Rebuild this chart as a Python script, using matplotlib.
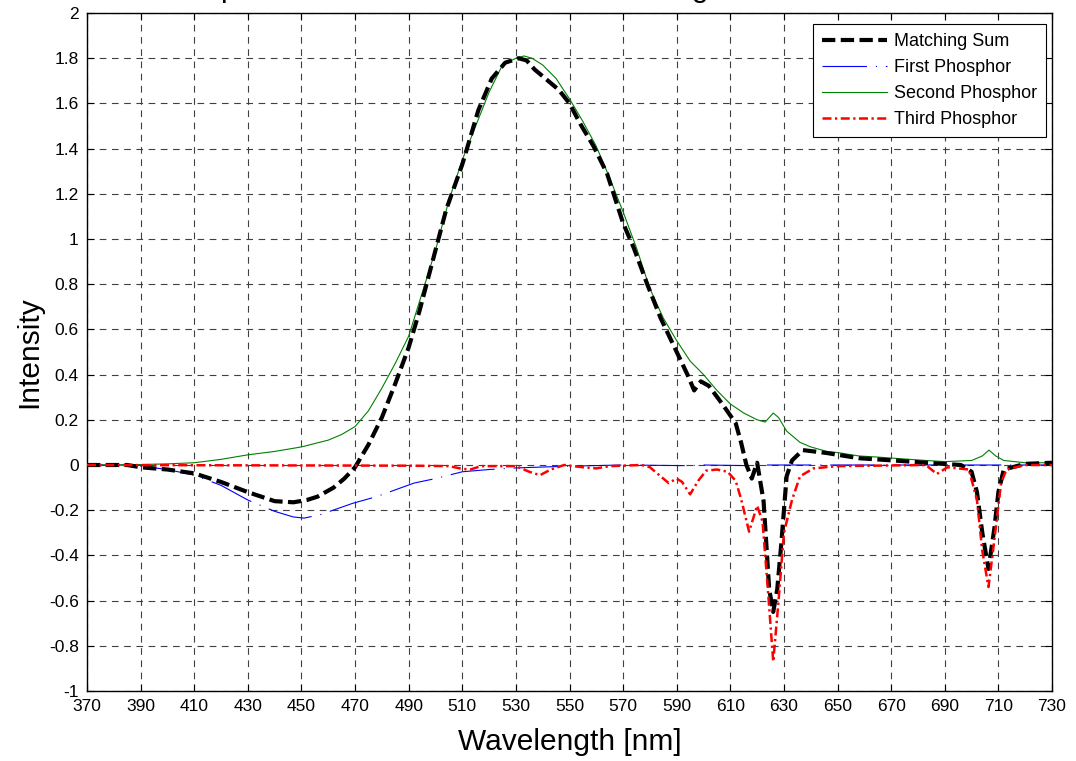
import numpy as np
import matplotlib
matplotlib.use("Agg")
import matplotlib.pyplot as plt
from matplotlib.ticker import FuncFormatter

plt.rcParams['font.family'] = ['Liberation Sans', 'DejaVu Sans']

# Matching Sum (black, thick dashed)
wl_sum = [370, 380, 385, 390, 400, 410, 420, 430, 440, 447, 452, 456, 462, 466, 470,
          475, 480, 485, 490, 494, 498, 504, 510, 516, 521, 526, 531, 534, 537, 541,
          546, 550, 554, 559, 564, 570, 574, 579, 584, 590, 594, 596.5, 599, 602, 607,
          612, 614, 616, 618, 620, 622.4, 624.5, 626, 627.5, 629, 631, 633, 637, 646,
          658, 671, 683, 696, 700, 702, 704, 706.3, 708.5, 710, 712, 720, 730]
sum_vals = [0.0, 0.0, 0.0, -0.01, -0.02, -0.037, -0.075, -0.12, -0.16, -0.165, -0.155,
            -0.14, -0.10, -0.06, -0.01, 0.09, 0.21, 0.36, 0.52, 0.68, 0.86, 1.13, 1.33,
            1.57, 1.71, 1.78, 1.80, 1.79, 1.75, 1.71, 1.66, 1.60, 1.51, 1.41, 1.29, 1.07,
            0.96, 0.80, 0.65, 0.50, 0.40, 0.33, 0.37, 0.35, 0.27, 0.185, 0.10, 0.0, -0.06,
            0.01, -0.16, -0.55, -0.65, -0.55, -0.35, -0.05, 0.02, 0.066, 0.053, 0.03, 0.02,
            0.01, 0.0, -0.03, -0.12, -0.3, -0.46, -0.28, -0.12, -0.02, 0.005, 0.01]

# First Phosphor (blue)
wl_first = [370, 385, 390, 400, 410, 420, 430, 440, 447, 451, 457, 463, 469, 478, 485,
            492, 500, 510, 520, 530, 550, 570, 595, 600, 618, 620, 650, 700, 730]
first_vals = [0.0, 0.0, -0.005, -0.02, -0.045, -0.09, -0.155, -0.205, -0.23, -0.235,
              -0.22, -0.195, -0.17, -0.14, -0.11, -0.08, -0.06, -0.03, -0.02, -0.013,
              -0.005, 0.0, -0.003, 0.0, -0.003, 0.0, 0.0, 0.0, 0.0]

# Second Phosphor (green)
wl_second = [370, 380, 390, 400, 410, 420, 430, 440, 450, 460, 465, 470, 475, 480, 485,
             490, 495, 500, 505, 510, 515, 520, 525, 530, 533, 536, 540, 545, 550, 555,
             560, 565, 570, 575, 580, 585, 590, 595, 600, 605, 610, 615, 620, 623, 626,
             628, 631, 636, 640, 646, 650, 658, 665, 671, 683, 690, 700, 704, 706.5, 709,
             712, 720, 730]
second_vals = [0.0, 0.0, 0.002, 0.005, 0.01, 0.025, 0.045, 0.06, 0.08, 0.11, 0.135, 0.17,
               0.24, 0.34, 0.45, 0.57, 0.76, 0.95, 1.17, 1.35, 1.50, 1.65, 1.77, 1.80,
               1.81, 1.80, 1.77, 1.71, 1.62, 1.52, 1.41, 1.27, 1.12, 0.96, 0.78, 0.65,
               0.55, 0.46, 0.40, 0.33, 0.27, 0.23, 0.20, 0.19, 0.23, 0.21, 0.15, 0.10,
               0.08, 0.06, 0.055, 0.04, 0.035, 0.03, 0.02, 0.015, 0.02, 0.04, 0.066, 0.04,
               0.02, 0.01, 0.01]

# Third Phosphor (red, dash-dot)
wl_third = [370, 490, 505, 510, 513, 517, 530, 535, 539, 543, 548, 555, 560, 565, 577,
            580, 584, 587, 590, 592, 595, 598, 601, 605, 609, 612, 614, 617, 620, 622,
            624, 626, 628, 630, 633, 636, 641, 650, 683, 687, 691, 699, 702, 704, 706.3,
            708, 709.5, 711, 713, 720, 730]
third_vals = [0.0, -0.003, -0.005, -0.017, -0.02, -0.005, -0.005, -0.03, -0.045, -0.02,
              0.0, -0.01, -0.015, -0.005, 0.0, -0.01, -0.05, -0.08, -0.06, -0.075, -0.13,
              -0.07, -0.025, -0.02, -0.03, -0.07, -0.15, -0.295, -0.18, -0.25, -0.55,
              -0.87, -0.6, -0.3, -0.155, -0.05, -0.015, -0.005, 0.0, -0.04, -0.01, -0.02,
              -0.155, -0.38, -0.54, -0.38, -0.23, -0.08, -0.02, 0.0, 0.0]

xticks = np.arange(370, 731, 20)
yticks = np.round(np.arange(-1, 2.01, 0.2), 1)


def fmt(v, pos):
    v = round(v, 1)
    if abs(v) < 1e-9:
        return '0'
    return '%g' % v


fig = plt.figure(figsize=(10.76, 7.61), dpi=100)
ax = fig.add_axes([87 / 1076, 70 / 761, 965 / 1076, 678 / 761])

ax.plot(wl_sum, sum_vals, color='black', lw=3.0, linestyle=(0, (3.2, 1.3)),
        label='Matching Sum', zorder=4)
ax.plot(wl_first, first_vals, color='#0000FF', lw=0.8, linestyle=(0, (40, 8, 1, 8)),
        label='First Phosphor', zorder=3)
ax.plot(wl_second, second_vals, color='#008000', lw=0.8, label='Second Phosphor', zorder=3)
ax.plot(wl_third, third_vals, color='#FF0000', lw=1.8, linestyle=(0, (3.6, 1.4, 0.9, 1.4)),
        label='Third Phosphor', zorder=5)

ax.set_xlim(370, 730)
ax.set_ylim(-1, 2)
ax.set_xticks(xticks)
ax.set_yticks(yticks)
ax.yaxis.set_major_formatter(FuncFormatter(fmt))
ax.tick_params(direction='in', top=True, right=True, length=5, width=0.8,
               labelsize=12.5, pad=6)
ax.grid(True, color='0.25', lw=0.8, linestyle=(0, (6, 5)))
for s in ax.spines.values():
    s.set_linewidth(1.0)

ax.set_xlabel('Wavelength [nm]', fontsize=21.5, labelpad=10)
ax.set_ylabel('Intensity', fontsize=21.5, labelpad=4)

leg = ax.legend(loc='upper right', bbox_to_anchor=(0.9938, 0.9838), borderaxespad=0,
                fontsize=13, handlelength=3.6, handletextpad=0.4, labelspacing=0.5,
                fancybox=False, framealpha=1, edgecolor='black', borderpad=0.5)
leg.get_frame().set_linewidth(0.8)

# title sits mostly above the figure edge, only descenders show
fig.text(0.455, 1.004, 'Spectral Contributions to the Matching Sum',
         ha='center', va='baseline', fontsize=21.5)

fig.savefig('out.png', dpi=100)
